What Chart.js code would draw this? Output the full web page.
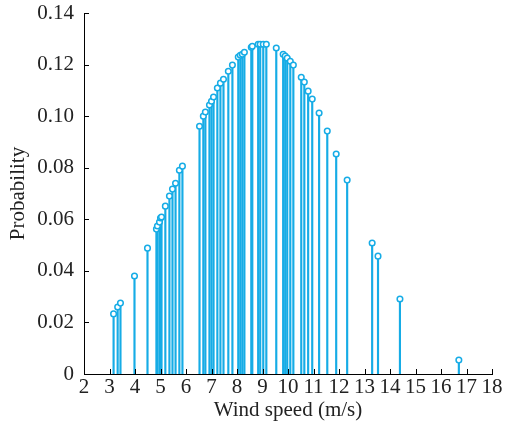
<!DOCTYPE html>
<html>
<head>
<meta charset="utf-8">
<script src="https://cdn.jsdelivr.net/npm/chart.js@4"></script>
<style>
  html, body { margin: 0; padding: 0; background: #fff; }
  #wrap { width: 505px; height: 423px; }
</style>
</head>
<body>
<div id="wrap"><canvas id="windChart"></canvas></div>
<script>
// wind speed samples (m/s) and their probability
const windSpeed = [3.16, 3.32, 3.43, 3.98, 4.49, 4.84, 4.88, 4.96, 5.00, 5.04,
  5.19, 5.35, 5.47, 5.59, 5.74, 5.86, 6.53, 6.68, 6.76, 6.92,
  7.00, 7.08, 7.23, 7.35, 7.47, 7.66, 7.82, 8.05, 8.13, 8.21,
  8.29, 8.56, 8.60, 8.83, 8.91, 9.03, 9.15, 9.54, 9.81, 9.89,
  9.97, 10.09, 10.21, 10.52, 10.64, 10.79, 10.95, 11.22, 11.54, 11.89,
  12.32, 13.30, 13.53, 14.39, 16.70];
const probability = [0.0233, 0.0260, 0.0275, 0.0380, 0.0488, 0.0562, 0.0574, 0.0589, 0.0605, 0.0609,
  0.0651, 0.0690, 0.0717, 0.0740, 0.0790, 0.0806, 0.0961, 0.1000, 0.1016, 0.1043,
  0.1058, 0.1074, 0.1109, 0.1128, 0.1143, 0.1174, 0.1198, 0.1229, 0.1236, 0.1240,
  0.1248, 0.1267, 0.1271, 0.1279, 0.1279, 0.1279, 0.1279, 0.1264, 0.1240, 0.1233,
  0.1225, 0.1213, 0.1198, 0.1151, 0.1132, 0.1097, 0.1066, 0.1012, 0.0942, 0.0853,
  0.0752, 0.0508, 0.0457, 0.0291, 0.0054];

const xTicks = [2, 3, 4, 5, 6, 7, 8, 9, 10, 11, 12, 13, 14, 15, 16, 17, 18];
const yTicks = [0, 0.02, 0.04, 0.06, 0.08, 0.10, 0.12, 0.14];

const stemColor = "#16ace6";
const font = { family: "'Liberation Serif', 'Times New Roman', serif", size: 21 };
const points = windSpeed.map((x, i) => ({ x, y: probability[i] }));

// small ticks pointing into the plot area
const innerTicks = {
  id: "innerTicks",
  afterDraw(chart) {
    const ctx = chart.ctx, xs = chart.scales.x, ys = chart.scales.y;
    ctx.save();
    ctx.strokeStyle = "#000";
    ctx.lineWidth = 1;
    ctx.beginPath();
    xTicks.forEach(v => {
      const px = Math.round(xs.getPixelForValue(v)) + 0.5;
      ctx.moveTo(px, ys.bottom);
      ctx.lineTo(px, ys.bottom - 5);
    });
    yTicks.forEach(v => {
      const py = Math.round(ys.getPixelForValue(v)) + 0.5;
      ctx.moveTo(xs.left, py);
      ctx.lineTo(xs.left + 5, py);
    });
    ctx.stroke();
    ctx.restore();
  }
};

new Chart(document.getElementById("windChart"), {
  type: "scatter",
  data: {
    datasets: [{
      type: "scatter",
      data: points,
      pointStyle: "circle",
      pointRadius: 2.8,
      pointBorderWidth: 1.5,
      pointBorderColor: stemColor,
      pointBackgroundColor: "#fff",
      order: 0
    }, {
      type: "bar",
      data: points,
      backgroundColor: stemColor,
      barThickness: 1.5,
      grouped: false,
      order: 1
    }]
  },
  options: {
    responsive: true,
    maintainAspectRatio: false,
    animation: false,
    layout: { padding: { left: 0, top: 13, right: 13, bottom: 0 } },
    plugins: { legend: { display: false }, tooltip: { enabled: false } },
    scales: {
      x: {
        type: "linear",
        min: 2, max: 18,
        offset: false,
        afterBuildTicks: s => { s.ticks = xTicks.map(v => ({ value: v })); },
        afterFit: s => { s.height = 49; },
        grid: { display: false, drawTicks: false },
        border: { display: true, color: "#000", width: 1 },
        ticks: { font, color: "#222", padding: 1, maxRotation: 0, autoSkip: false },
        title: { display: true, text: "Wind speed (m/s)", font, color: "#222", padding: { top: 0, bottom: 0 } }
      },
      y: {
        min: 0, max: 0.14,
        afterBuildTicks: s => { s.ticks = yTicks.map(v => ({ value: v })); },
        afterFit: s => { s.width = 84; s.paddingTop = 0; s.paddingBottom = 0; },
        grid: { display: false, drawTicks: false },
        border: { display: true, color: "#000", width: 1 },
        ticks: {
          font, color: "#222", padding: 10,
          callback: v => v === 0 ? "0" : v.toFixed(2)
        },
        title: { display: true, text: "Probability", font, color: "#222", padding: { top: 6, bottom: 0 } }
      }
    }
  },
  plugins: [innerTicks]
});
</script>
</body>
</html>
